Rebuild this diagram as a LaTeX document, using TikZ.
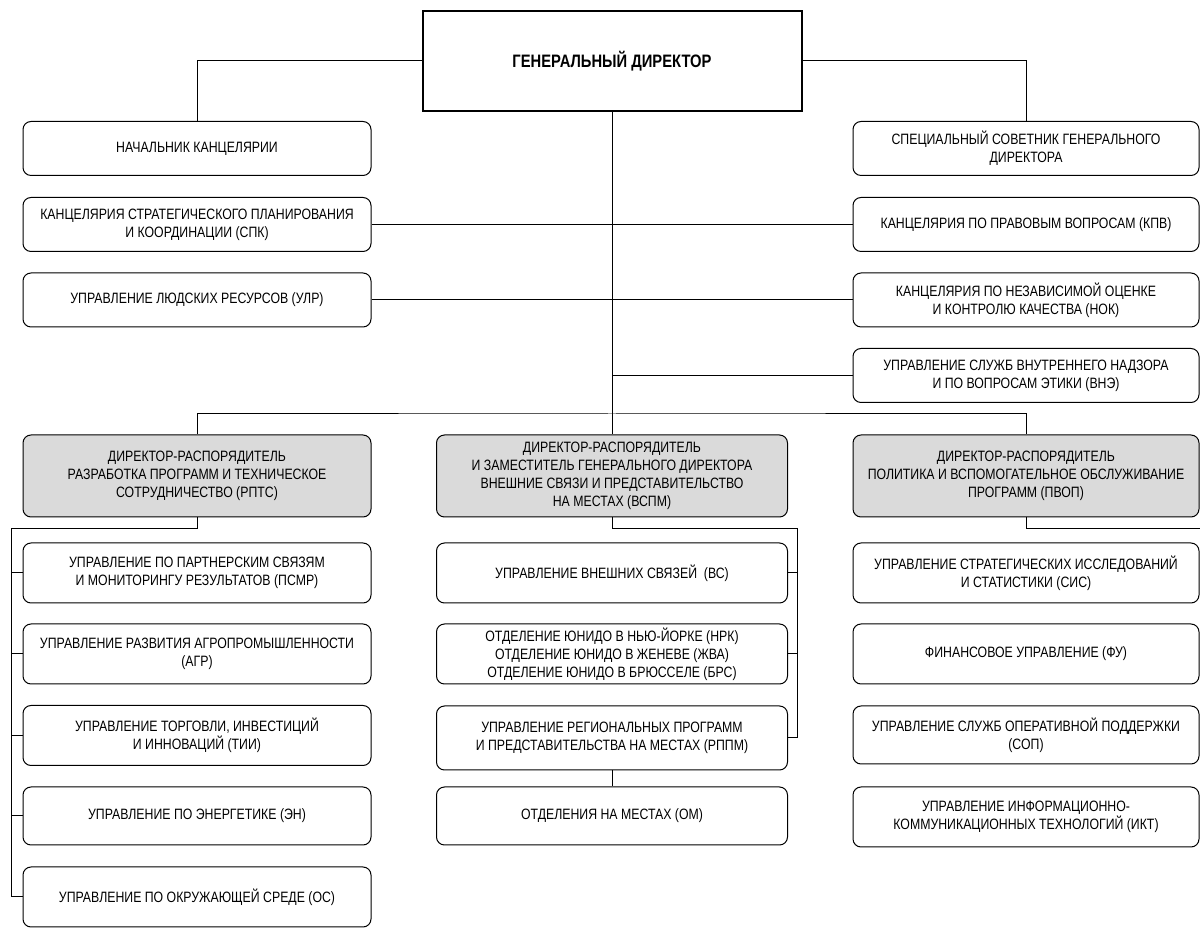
\documentclass[tikz,border=0pt]{standalone}
\usepackage{fontspec}
\setmainfont{Liberation Sans}[FakeStretch=0.82]
\definecolor{boxgray}{RGB}{218,218,218}
\tikzset{
  box/.style={draw, line width=0.5pt, rounded corners=4pt, align=center, inner sep=0pt,
    font=\fontsize{7.5}{9}\selectfont, fill=white, minimum height=30pt},
  gbox/.style={box, fill=boxgray, minimum height=41pt},
  topbox/.style={box, minimum height=27pt},
  colL/.style={minimum width=174pt},
  colM/.style={minimum width=175.5pt},
  colR/.style={minimum width=173pt},
  gdbox/.style={draw, line width=1pt, fill=white, align=center, minimum width=189.5pt,
    minimum height=50pt, font=\fontsize{9}{11}\selectfont\bfseries},
  conn/.style={draw, line width=0.5pt}
}
\begin{document}
\begin{tikzpicture}[x=0.5pt, y=-0.5pt]
\useasboundingbox (0,0) rectangle (1200,929);

\node[gdbox] (gd) at (612,61) {ГЕНЕРАЛЬНЫЙ ДИРЕКТОР};

% upper left
\node[topbox, colL] (nach) at (197,148.5) {НАЧАЛЬНИК КАНЦЕЛЯРИИ};
\node[topbox, colL] (spk) at (197,224.5) {КАНЦЕЛЯРИЯ СТРАТЕГИЧЕСКОГО ПЛАНИРОВАНИЯ\\И КООРДИНАЦИИ (СПК)};
\node[topbox, colL] (ulr) at (197,300) {УПРАВЛЕНИЕ ЛЮДСКИХ РЕСУРСОВ (УЛР)};

% upper right
\node[topbox, colR] (sov) at (1026,148.5) {СПЕЦИАЛЬНЫЙ СОВЕТНИК ГЕНЕРАЛЬНОГО\\ДИРЕКТОРА};
\node[topbox, colR] (kpv) at (1026,224.5) {КАНЦЕЛЯРИЯ ПО ПРАВОВЫМ ВОПРОСАМ (КПВ)};
\node[topbox, colR] (nok) at (1026,300) {КАНЦЕЛЯРИЯ ПО НЕЗАВИСИМОЙ ОЦЕНКЕ\\И КОНТРОЛЮ КАЧЕСТВА (НОК)};
\node[topbox, colR] (vne) at (1026,375.5) {УПРАВЛЕНИЕ СЛУЖБ ВНУТРЕННЕГО НАДЗОРА\\И ПО ВОПРОСАМ ЭТИКИ (ВНЭ)};

% grey directors
\node[gbox, colL] (gL) at (197,476) {ДИРЕКТОР-РАСПОРЯДИТЕЛЬ\\РАЗРАБОТКА ПРОГРАММ И ТЕХНИЧЕСКОЕ\\СОТРУДНИЧЕСТВО (РПТС)};
\node[gbox, colM] (gM) at (612,476) {ДИРЕКТОР-РАСПОРЯДИТЕЛЬ\\И ЗАМЕСТИТЕЛЬ ГЕНЕРАЛЬНОГО ДИРЕКТОРА\\ВНЕШНИЕ СВЯЗИ И ПРЕДСТАВИТЕЛЬСТВО\\НА МЕСТАХ (ВСПМ)};
\node[gbox, colR] (gR) at (1026,476) {ДИРЕКТОР-РАСПОРЯДИТЕЛЬ\\ПОЛИТИКА И ВСПОМОГАТЕЛЬНОЕ ОБСЛУЖИВАНИЕ\\ПРОГРАММ (ПВОП)};

% left column
\node[box, colL] (psmr) at (197,573) {УПРАВЛЕНИЕ ПО ПАРТНЕРСКИМ СВЯЗЯМ\\И МОНИТОРИНГУ РЕЗУЛЬТАТОВ (ПСМР)};
\node[box, colL] (agr) at (197,654) {УПРАВЛЕНИЕ РАЗВИТИЯ АГРОПРОМЫШЛЕННОСТИ\\(АГР)};
\node[box, colL] (tii) at (197,735.5) {УПРАВЛЕНИЕ ТОРГОВЛИ, ИНВЕСТИЦИЙ\\И ИННОВАЦИЙ (ТИИ)};
\node[box, colL, minimum height=29pt] (en) at (197,816) {УПРАВЛЕНИЕ ПО ЭНЕРГЕТИКЕ (ЭН)};
\node[box, colL] (os) at (197,897) {УПРАВЛЕНИЕ ПО ОКРУЖАЮЩЕЙ СРЕДЕ (ОС)};

% middle column
\node[box, colM] (vs) at (612,573) {УПРАВЛЕНИЕ ВНЕШНИХ СВЯЗЕЙ~ (ВС)};
\node[box, colM] (unido) at (612,654) {ОТДЕЛЕНИЕ ЮНИДО В НЬЮ-ЙОРКЕ (НРК)\\ОТДЕЛЕНИЕ ЮНИДО В ЖЕНЕВЕ (ЖВА)\\ОТДЕЛЕНИЕ ЮНИДО В БРЮССЕЛЕ (БРС)};
\node[box, colM, minimum height=32pt] (rppm) at (612,738) {УПРАВЛЕНИЕ РЕГИОНАЛЬНЫХ ПРОГРАММ\\И ПРЕДСТАВИТЕЛЬСТВА НА МЕСТАХ (РППМ)};
\node[box, colM, minimum height=29pt] (om) at (612,816) {ОТДЕЛЕНИЯ НА МЕСТАХ (ОМ)};

% right column
\node[box, colR] (sis) at (1026,573) {УПРАВЛЕНИЕ СТРАТЕГИЧЕСКИХ ИССЛЕДОВАНИЙ\\И СТАТИСТИКИ (СИС)};
\node[box, colR] (fu) at (1026,654) {ФИНАНСОВОЕ УПРАВЛЕНИЕ (ФУ)};
\node[box, colR, minimum height=29pt] (sop) at (1026,735) {УПРАВЛЕНИЕ СЛУЖБ ОПЕРАТИВНОЙ ПОДДЕРЖКИ\\(СОП)};
\node[box, colR] (ikt) at (1026,817) {УПРАВЛЕНИЕ ИНФОРМАЦИОННО-\\КОММУНИКАЦИОННЫХ ТЕХНОЛОГИЙ (ИКТ)};

% connectors
\draw[conn] (gd.west) -| (nach.north);
\draw[conn] (gd.east) -| (sov.north);
\draw[conn] (gd.south) -- (gM.north);
\coordinate (hub) at (612,414);
\draw[conn] (gL.north) |- (hub) -| (gR.north);
\foreach \n in {spk,ulr} \draw[conn] (\n.east) -- (\n.east -| gd.south);
\foreach \n in {kpv,nok,vne} \draw[conn] (\n.west) -- (\n.west -| gd.south);

\coordinate (lb) at (11,529);
\draw[conn] (gL.south) |- (lb) |- (os.west);
\foreach \n in {psmr,agr,tii,en} \draw[conn] (\n.west) -- (\n.west -| lb);

\coordinate (mb) at (797,529);
\draw[conn] (gM.south) |- (mb) |- (rppm.east);
\foreach \n in {vs,unido} \draw[conn] (\n.east) -- (\n.east -| mb);
\draw[conn] (rppm.south) -- (om.north);

\coordinate (rb) at (1200,529);
\draw[conn] (gR.south) |- (rb);
\end{tikzpicture}
\end{document}
